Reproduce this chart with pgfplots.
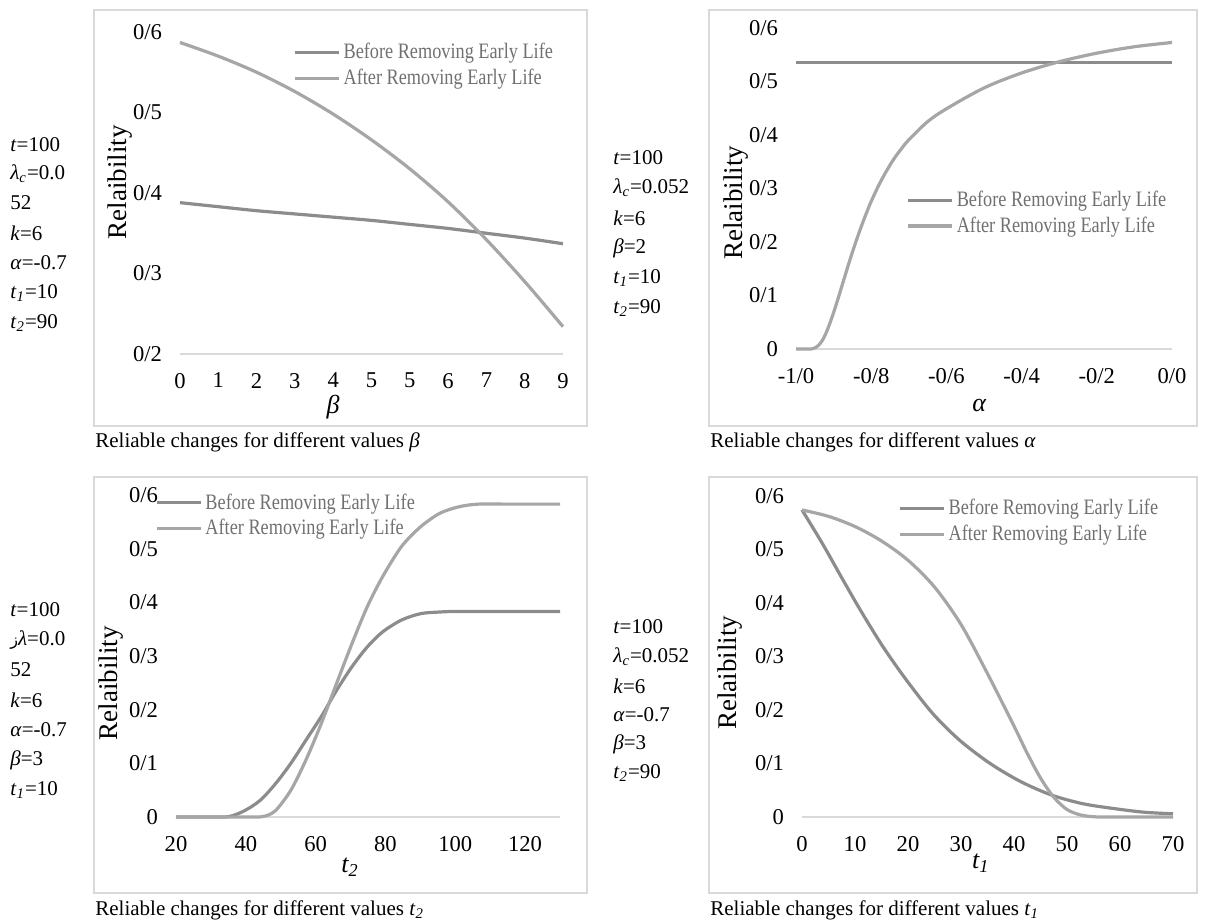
\documentclass[border=0pt]{standalone}
\usepackage{pgfplots}
\pgfplotsset{compat=1.18}
\usepackage{fontspec}
\setmainfont{Liberation Serif}
\newfontfamily\legfont{Liberation Serif}[FakeStretch=0.83]
\newfontfamily\arabicfont[Script=Arabic]{DejaVu Sans}
\definecolor{before}{HTML}{8C8C8C}
\definecolor{after}{HTML}{A6A6A6}
\definecolor{legtext}{HTML}{707070}
\definecolor{frame}{HTML}{D9D9D9}

\pgfplotsset{
  panel/.style={
    scale only axis,
    anchor=south west,
    axis x line*=bottom,
    axis y line*=left,
    x axis line style={draw=frame, line width=0.8pt, -},
    y axis line style={draw=none},
    major tick length=0pt,
    tick style={draw=none},
    ticklabel style={font=\fontsize{11.3}{13}\selectfont, text=black},
    yticklabel style={xshift=-5.5pt},
    xticklabel style={yshift=-6pt},
    xlabel style={font=\fontsize{13}{15}\selectfont\itshape, anchor=center},
    ylabel style={font=\fontsize{13.5}{15}\selectfont, anchor=center},
    legend style={draw=none, fill=none, font=\legfont\fontsize{11}{12.5}\selectfont, text=legtext, inner sep=0pt, row sep=0.5pt, anchor=north west, cells={anchor=west}, nodes={inner sep=1.5pt}},
    legend image code/.code={\draw[#1, line width=1.6pt] (0pt,0pt) -- (22pt,0pt);},
    every axis plot/.append style={line width=1.6pt, smooth, no markers},
    clip=false,
  }
}

\begin{document}
\begin{tikzpicture}
\begin{scope}[x=0.5pt,y=-0.5pt]
\useasboundingbox (0,0) rectangle (1206,922);
% frames
\draw[frame, line width=0.6pt] (94,10) rectangle (587,426);
\draw[frame, line width=0.6pt] (709,10) rectangle (1197,426);
\draw[frame, line width=0.6pt] (94,477) rectangle (587,893);
\draw[frame, line width=0.6pt] (709,477) rectangle (1197,893);
% parameter texts
\begin{scope}[every node/.style={anchor=west, inner sep=0pt, font=\fontsize{10.5}{12}\selectfont}]
\node at (10,145) {\textit{t}=100};
\node at (10,174) {\textit{λ}\textsubscript{\textit{c}}=0.0};
\node at (10,203) {52};
\node at (10,233) {\textit{k}=6};
\node at (10,263) {\textit{α}=-0.7};
\node at (10,293) {\textit{t}\textsubscript{\textit{1}}=10};
\node at (10,323) {\textit{t}\textsubscript{\textit{2}}=90};

\node at (613,158) {\textit{t}=100};
\node at (613,188) {\textit{λ}\textsubscript{\textit{c}}=0.052};
\node at (613,218) {\textit{k}=6};
\node at (613,248) {\textit{β}=2};
\node at (613,278) {\textit{t}\textsubscript{\textit{1}}=10};
\node at (613,308) {\textit{t}\textsubscript{\textit{2}}=90};

\node at (10,610) {\textit{t}=100};
\node at (10,640) {{\arabicfont\fontsize{8}{10}\selectfont ز}\textit{λ}=0.0};
\node at (10,670) {52};
\node at (10,700) {\textit{k}=6};
\node at (10,730) {\textit{α}=-0.7};
\node at (10,760) {\textit{β}=3};
\node at (10,790) {\textit{t}\textsubscript{\textit{1}}=10};

\node at (613,627) {\textit{t}=100};
\node at (613,657) {\textit{λ}\textsubscript{\textit{c}}=0.052};
\node at (613,686) {\textit{k}=6};
\node at (613,715) {\textit{α}=-0.7};
\node at (613,744) {\textit{β}=3};
\node at (613,773) {\textit{t}\textsubscript{\textit{2}}=90};

% captions
\node at (95,442) {Reliable changes for different values \textit{β}};
\node at (710,442) {Reliable changes for different values \textit{α}};
\node at (95,910) {Reliable changes for different values \textit{t}\textsubscript{\textit{2}}};
\node at (710,910) {Reliable changes for different values \textit{t}\textsubscript{\textit{1}}};
\end{scope}
\end{scope}

% ---------- Panel 1: beta ----------
\begin{axis}[panel, at={(90pt,-177pt)}, width=191.5pt, height=161pt,
  xmin=0, xmax=10, ymin=0.2, ymax=0.6,
  xtick={0,1,2,3,4,5,6,7,8,9,10}, xticklabels={0,1,2,3,4,5,5,6,7,8,9},
  ytick={0.2,0.3,0.4,0.5,0.6}, yticklabels={0/2,0/3,0/4,0/5,0/6},
  xlabel={β}, xlabel style={at={(axis description cs:0.4,0)}, yshift=-26.5pt},
  ylabel={Relaibility}, ylabel style={at={(axis description cs:-0.157,0.534)}},
  legend style={at={(axis description cs:0.295,0.975)}}]
\addplot[before] coordinates {(0,0.388) (1,0.383) (2,0.378) (3,0.374) (4,0.370) (5,0.366) (6,0.361) (7,0.356) (8,0.350) (9,0.344) (10,0.337)};
\addlegendentry{Before Removing Early Life}
\addplot[after] coordinates {(0,0.587) (1,0.570) (2,0.550) (3,0.526) (4,0.498) (5,0.466) (6,0.430) (7,0.389) (8,0.342) (9,0.290) (10,0.234)};
\addlegendentry{After Removing Early Life}
\end{axis}

% ---------- Panel 2: alpha ----------
\begin{axis}[panel, at={(398pt,-174.5pt)}, width=188pt, height=160.5pt,
  xmin=-1, xmax=0, ymin=0, ymax=0.6,
  xtick={-1,-0.8,-0.6,-0.4,-0.2,0}, xticklabels={-1/0,-0/8,-0/6,-0/4,-0/2,0/0},
  ytick={0,0.1,0.2,0.3,0.4,0.5,0.6}, yticklabels={0,0/1,0/2,0/3,0/4,0/5,0/6},
  xlabel={α}, xlabel style={at={(axis description cs:0.487,0)}, yshift=-28pt},
  ylabel={Relaibility}, ylabel style={at={(axis description cs:-0.16,0.455)}},
  legend style={at={(axis description cs:0.293,0.502)}}]
\addplot[before] coordinates {(-1,0.535) (-0.5,0.535) (0,0.535)};
\addlegendentry{Before Removing Early Life}
\addplot[after] coordinates {(-1,0) (-0.96,0) (-0.95,0.002) (-0.94,0.007) (-0.93,0.016) (-0.92,0.030) (-0.91,0.048) (-0.90,0.068) (-0.89,0.090) (-0.88,0.113) (-0.87,0.136) (-0.86,0.159) (-0.85,0.181) (-0.84,0.202) (-0.83,0.222) (-0.82,0.241) (-0.81,0.259) (-0.80,0.276) (-0.78,0.306) (-0.76,0.332) (-0.74,0.355) (-0.72,0.374) (-0.70,0.391) (-0.65,0.425) (-0.60,0.449) (-0.50,0.488) (-0.40,0.516) (-0.30,0.537) (-0.20,0.553) (-0.10,0.565) (0,0.573)};
\addlegendentry{After Removing Early Life}
\end{axis}

% ---------- Panel 3: t2 ----------
\begin{axis}[panel, at={(88pt,-408.5pt)}, width=192pt, height=161pt,
  xmin=20, xmax=130, ymin=0, ymax=0.6,
  xtick={20,40,60,80,100,120}, xticklabels={20,40,60,80,100,120},
  ytick={0,0.1,0.2,0.3,0.4,0.5,0.6}, yticklabels={0,0/1,0/2,0/3,0/4,0/5,0/6},
  xlabel={t\textsubscript{2}}, xlabel style={at={(axis description cs:0.453,0)}, yshift=-25pt},
  ylabel={Relaibility}, ylabel style={at={(axis description cs:-0.169,0.416)}},
  legend style={at={(axis description cs:-0.055,1.015)}}]
\addplot[before] coordinates {(20,0) (30,0) (35.3,0.001) (39.7,0.012) (44.1,0.031) (48.5,0.062) (52.9,0.10) (57.2,0.143) (61.6,0.187) (66.0,0.236) (70.4,0.28) (74.8,0.317) (79.2,0.345) (84.6,0.367) (90.1,0.379) (95.6,0.382) (100,0.383) (110,0.383) (120,0.383) (130,0.383)};
\addlegendentry{Before Removing Early Life}
\addplot[after] coordinates {(20,0) (30,0) (40,0) (45,0.001) (48.5,0.012) (52.9,0.05) (57.2,0.106) (61.6,0.174) (66.0,0.249) (70.4,0.323) (74.8,0.392) (79.2,0.448) (84.6,0.504) (90.1,0.541) (95.6,0.566) (101.0,0.578) (106.5,0.583) (115,0.583) (122,0.583) (130,0.583)};
\addlegendentry{After Removing Early Life}
\end{axis}

% ---------- Panel 4: t1 ----------
\begin{axis}[panel, at={(401pt,-408.5pt)}, width=185.5pt, height=160.5pt,
  xmin=0, xmax=70, ymin=0, ymax=0.6,
  xtick={0,10,20,30,40,50,60,70}, xticklabels={0,10,20,30,40,50,60,70},
  ytick={0,0.1,0.2,0.3,0.4,0.5,0.6}, yticklabels={0,0/1,0/2,0/3,0/4,0/5,0/6},
  xlabel={t\textsubscript{1}}, xlabel style={at={(axis description cs:0.482,0)}, yshift=-23pt},
  ylabel={Relaibility}, ylabel style={at={(axis description cs:-0.194,0.449)}},
  legend style={at={(axis description cs:0.259,1.0)}}]
\addplot[before] coordinates {(0,0.574) (3.8,0.512) (7.4,0.449) (11.0,0.387) (15.3,0.318) (19.7,0.256) (24.7,0.193) (29.8,0.143) (35.5,0.10) (41.3,0.066) (47.1,0.041) (52.9,0.025) (58.7,0.016) (64.5,0.009) (70,0.006)};
\addlegendentry{Before Removing Early Life}
\addplot[after] coordinates {(0,0.574) (5,0.562) (10,0.543) (15,0.516) (20,0.480) (25,0.430) (30,0.360) (35,0.268) (40,0.170) (42.5,0.119) (45,0.073) (47.5,0.037) (50,0.014) (52.5,0.004) (55,0.0005) (58,0) (64,0) (70,0)};
\addlegendentry{After Removing Early Life}
\end{axis}
\end{tikzpicture}
\end{document}
